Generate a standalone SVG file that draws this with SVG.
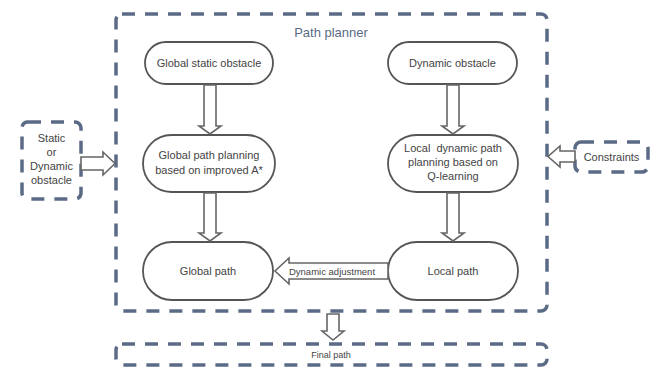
<svg xmlns="http://www.w3.org/2000/svg" width="659" height="376" viewBox="0 0 659 376">
<style>
.dash{fill:none;stroke:#5b6b86;stroke-width:3.5;stroke-dasharray:13 10;stroke-linecap:butt}
.node{fill:#fff;stroke:#555;stroke-width:1.8}
.arr{fill:#fff;stroke:#666;stroke-width:1.6;stroke-linejoin:miter}
.t{font-family:"Liberation Sans",Arial,sans-serif;font-size:11px;fill:#444;text-anchor:middle}
.s{font-size:9px}
.title{font-family:"Liberation Sans",Arial,sans-serif;font-size:13px;fill:#5b6b86;text-anchor:middle}
</style>
<rect width="659" height="376" fill="#fff"/>
<g id="path-planner">
<rect class="dash" x="116" y="14" width="431" height="297" rx="6"/>
<text class="title" x="331" y="37">Path planner</text>
</g>
<g id="final-path">
<rect class="dash" x="116" y="344" width="431" height="21" rx="6"/>
<text class="t s" x="331" y="358">Final path</text>
</g>
<g id="static-dynamic-obstacle">
<rect class="dash" x="22" y="122" width="59" height="77" rx="6"/>
<text class="t" x="51.5" y="142">Static</text>
<text class="t" x="51.5" y="156">or</text>
<text class="t" x="51.5" y="170">Dynamic</text>
<text class="t" x="51.5" y="184">obstacle</text>
</g>
<g id="constraints">
<rect class="dash" x="575" y="142" width="73" height="30" rx="6"/>
<text class="t" x="611.5" y="160.5">Constraints</text>
</g>
<g id="global-static-obstacle">
<rect class="node" x="145" y="42" width="128" height="42" rx="21"/>
<text class="t" x="209" y="67">Global static obstacle</text>
</g>
<g id="dynamic-obstacle">
<rect class="node" x="388" y="42" width="129" height="42" rx="21"/>
<text class="t" x="452.5" y="67">Dynamic obstacle</text>
</g>
<g id="global-path-planning">
<rect class="node" x="143" y="135" width="132" height="57" rx="28.5"/>
<text class="t" x="209" y="159">Global path planning</text>
<text class="t" x="209" y="174">based on improved A*</text>
</g>
<g id="local-path-planning">
<rect class="node" x="388" y="135" width="130" height="57" rx="28.5"/>
<text class="t" x="453" y="152" xml:space="preserve">Local  dynamic path</text>
<text class="t" x="453" y="166">planning based on</text>
<text class="t" x="453" y="180">Q-learning</text>
</g>
<g id="global-path">
<rect class="node" x="143" y="242" width="130" height="58" rx="29"/>
<text class="t" x="208" y="275">Global path</text>
</g>
<g id="local-path">
<rect class="node" x="388" y="242" width="130" height="58" rx="29"/>
<text class="t" x="453" y="275">Local path</text>
</g>
<g id="connectors">
<path class="arr" d="M204 85 V126 H199 L210 134 L221 126 H216 V85 Z"/>
<path class="arr" d="M447 85 V126 H442 L453 134 L464 126 H459 V85 Z"/>
<path class="arr" d="M204 193 V233 H199 L210 241 L221 233 H216 V193 Z"/>
<path class="arr" d="M447 193 V233 H442 L453 241 L464 233 H459 V193 Z"/>
<path class="arr" d="M388 263 H289 V258 L275 271 L289 284 V279 H388 Z"/>
<text class="t" x="332" y="275" style="font-size:9.5px">Dynamic adjustment</text>
<path class="arr" d="M81 157 H103 V152 L115 163.5 L103 175 V170 H81 Z"/>
<path class="arr" d="M575 151 H560 V146 L548 156.5 L560 167 V162 H575 Z"/>
<path class="arr" d="M327 314 V331 H322 L333 340 L344 331 H339 V314 Z"/>
</g>
</svg>
